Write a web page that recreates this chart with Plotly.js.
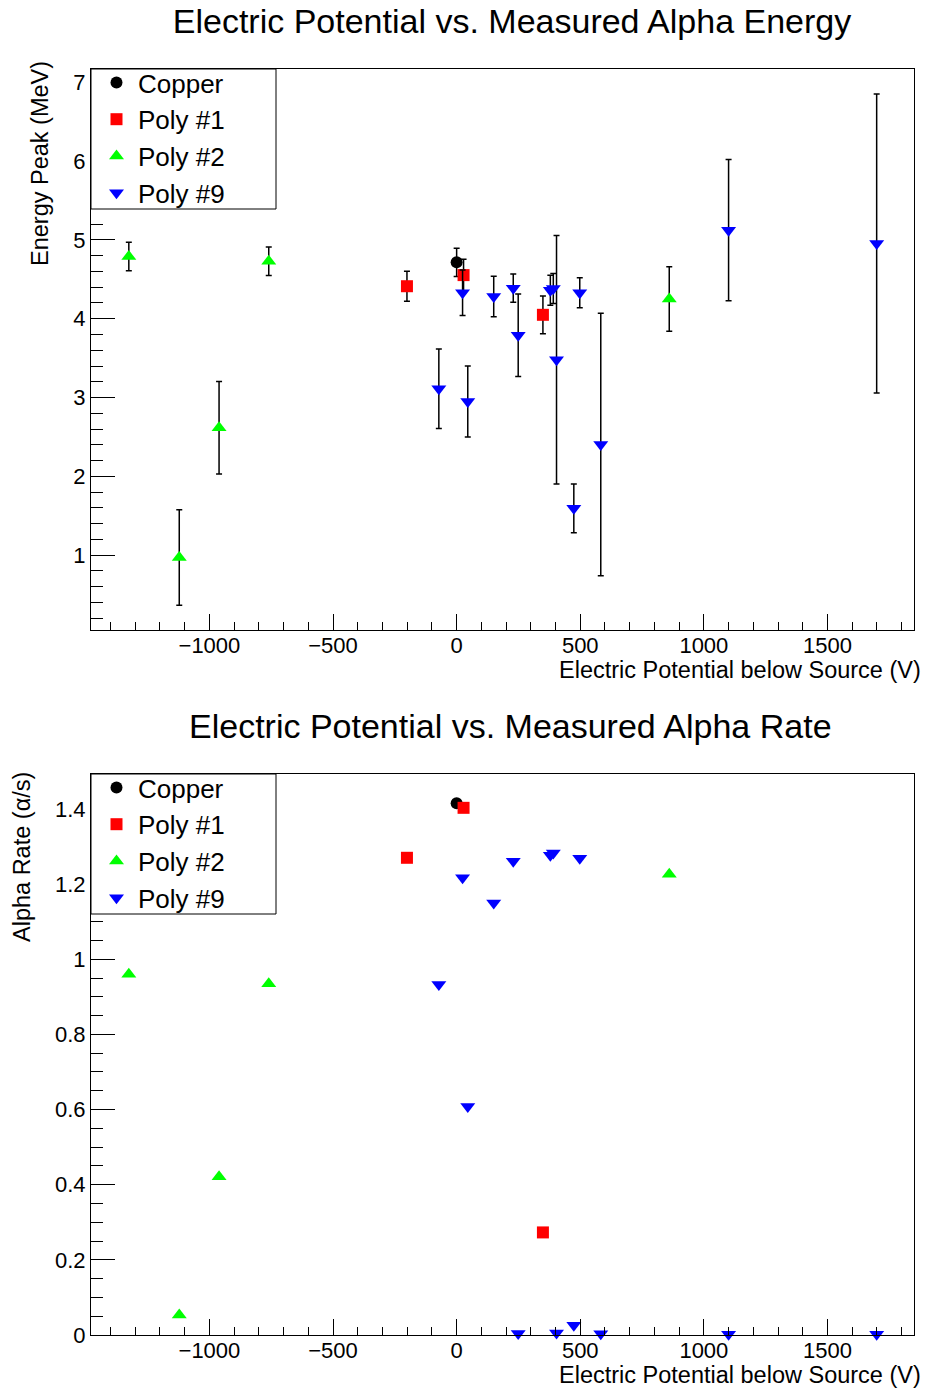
<!DOCTYPE html>
<html>
<head>
<meta charset="utf-8">
<script src="https://cdn.plot.ly/plotly-3.0.1.min.js"></script>
<style>html,body{margin:0;padding:0;background:#fff;}#chart{width:927px;height:1391px;}</style>
</head>
<body>
<div id="chart"></div>
<script>
// ---- Data ----
const seriesNames = ["Copper", "Poly #1", "Poly #2", "Poly #9"];

// Electric potential below source (V)
const copperV = [0];
const poly1V  = [-201, 28, 349];
const poly2V  = [-1326, -1122, -961, -760, 860];
const poly9V  = [-72, 24, 45, 150, 229, 249, 379, 391, 404, 474, 498, 583, 1100, 1699];

// Energy peak (MeV) and its uncertainty
const copperE    = [4.716];
const copperEerr = [0.18];
const poly1E     = [4.413, 4.554, 4.05];
const poly1Eerr  = [0.19, 0.20, 0.24];
const poly2E     = [4.79, 0.968, 2.615, 4.73, 4.25];
const poly2Eerr  = [0.18, 0.606, 0.587, 0.18, 0.41];
const poly9E     = [3.112, 4.33, 2.949, 4.283, 4.388, 3.79, 4.362, 4.384, 3.479, 1.593, 4.33, 2.403, 5.124, 4.955];
const poly9Eerr  = [0.504, 0.29, 0.451, 0.257, 0.18, 0.524, 0.19, 0.19, 1.577, 0.309, 0.19, 1.666, 0.897, 1.898];

// Alpha rate (alpha/s)
const copperR = [1.415];
const poly1R  = [1.27, 1.403, 0.273];
const poly2R  = [0.96, 0.053, 0.421, 0.935, 1.226];
const poly9R  = [0.933, 1.217, 0.608, 1.15, 1.261, 0.004, 1.277, 1.283, 0.005, 0.026, 1.269, 0.003, 0.002, 0.002];

const titles = ["Electric Potential vs. Measured Alpha Energy", "Electric Potential vs. Measured Alpha Rate"];
const xTitle = "Electric Potential below Source (V)";
const yTitles = ["Energy Peak (MeV)", "Alpha Rate (α/s)"];

// ---- Styling ----
const FONT = "Liberation Sans, Arial, Helvetica, sans-serif";
const colors = ["#000000", "#ff0000", "#00ff00", "#0000ff"];
const symbols = ["circle", "square", "triangle-up", "triangle-down"];
const sizes = [12, 12, 13, 13];

const W = 927, H = 1391;
const px = v => v / W;
const py = v => 1 - v / H;

const xs = [copperV, poly1V, poly2V, poly9V];
const es = [copperE, poly1E, poly2E, poly9E];
const errs = [copperEerr, poly1Eerr, poly2Eerr, poly9Eerr];
const rs = [copperR, poly1R, poly2R, poly9R];

const traces = [];
for (let i = 0; i < 4; i++) {
  traces.push({
    type: "scatter", mode: "markers", name: seriesNames[i],
    x: xs[i], y: es[i], xaxis: "x", yaxis: "y", legend: "legend",
    marker: {color: colors[i], symbol: symbols[i], size: sizes[i], line: {width: 0}},
    error_y: {type: "data", array: errs[i], visible: true, color: "#000000", thickness: 1.5, width: 3},
    cliponaxis: false
  });
}
for (let i = 0; i < 4; i++) {
  traces.push({
    type: "scatter", mode: "markers", name: seriesNames[i],
    x: xs[i], y: rs[i], xaxis: "x2", yaxis: "y2", legend: "legend2",
    marker: {color: colors[i], symbol: symbols[i], size: sizes[i], line: {width: 0}},
    cliponaxis: false
  });
}

const xRange = [-1479, 1850];
function xAxis(anchor) {
  return {
    domain: [px(91), px(914)], anchor: anchor, range: xRange,
    tick0: 0, dtick: 500, ticks: "inside", ticklen: 16, tickwidth: 1, tickcolor: "#000",
    minor: {dtick: 100, ticks: "inside", ticklen: 8, tickwidth: 1, tickcolor: "#000"},
    showline: true, linecolor: "#000", linewidth: 1, mirror: true,
    showgrid: false, zeroline: false, ticklabelstandoff: -4,
    tickfont: {family: FONT, size: 22, color: "#000"}
  };
}
function yAxis(anchor, dom, range, dtick, mdtick) {
  return {
    domain: dom, anchor: anchor, range: range,
    tick0: 0, dtick: dtick, ticks: "inside", ticklen: 24, tickwidth: 1, tickcolor: "#000",
    minor: {dtick: mdtick, ticks: "inside", ticklen: 12, tickwidth: 1, tickcolor: "#000"},
    showline: true, linecolor: "#000", linewidth: 1, mirror: true,
    showgrid: false, zeroline: false,
    tickfont: {family: FONT, size: 22, color: "#000"}
  };
}

const legendStyle = (top) => ({
  x: px(95), y: py(top), xanchor: "left", yanchor: "top",
  bgcolor: "rgba(0,0,0,0)", borderwidth: 0,
  font: {family: FONT, size: 26, color: "#000"},
  tracegroupgap: 0, itemsizing: "trace", itemwidth: 33
});

const layout = {
  width: W, height: H, autosize: false,
  margin: {l: 0, r: 0, t: 0, b: 0},
  paper_bgcolor: "#fff", plot_bgcolor: "#fff",
  font: {family: FONT, color: "#000"},
  title: {text: titles[0], x: px(512), xanchor: "center", xref: "paper", y: py(21), yanchor: "middle", yref: "paper",
          font: {family: FONT, size: 34, color: "#000"}},
  xaxis: xAxis("y"),
  yaxis: yAxis("x", [py(630), py(69)], [0.048, 7.171], 1, 0.2),
  xaxis2: xAxis("y2"),
  yaxis2: yAxis("x2", [py(1335), py(774)], [0, 1.493], 0.2, 0.05),
  legend: legendStyle(59),
  legend2: legendStyle(764),
  shapes: [
    {type: "rect", xref: "paper", yref: "paper", x0: px(91), x1: px(276), y0: py(209), y1: py(69),
     line: {color: "#000", width: 1}, fillcolor: "#fff", layer: "above"},
    {type: "rect", xref: "paper", yref: "paper", x0: px(91), x1: px(276), y0: py(914), y1: py(774),
     line: {color: "#000", width: 1}, fillcolor: "#fff", layer: "above"}
  ],
  annotations: [
    {text: titles[1], xref: "paper", yref: "paper", x: px(510), y: py(726), xanchor: "center", yanchor: "middle",
     showarrow: false, font: {family: FONT, size: 34, color: "#000"}},
    {text: xTitle, xref: "paper", yref: "paper", x: px(923), y: py(670), xanchor: "right", yanchor: "middle",
     showarrow: false, font: {family: FONT, size: 23.5, color: "#000"}},
    {text: xTitle, xref: "paper", yref: "paper", x: px(923), y: py(1375), xanchor: "right", yanchor: "middle",
     showarrow: false, font: {family: FONT, size: 23.5, color: "#000"}},
    {text: yTitles[0], xref: "paper", yref: "paper", x: px(40), y: py(164), xanchor: "center", yanchor: "middle",
     textangle: -90, showarrow: false, font: {family: FONT, size: 23.5, color: "#000"}},
    {text: yTitles[1], xref: "paper", yref: "paper", x: px(22), y: py(857), xanchor: "center", yanchor: "middle",
     textangle: -90, showarrow: false, font: {family: FONT, size: 23.5, color: "#000"}}
  ]
};

Plotly.newPlot("chart", traces, layout, {displayModeBar: false, staticPlot: true});
</script>
</body>
</html>
